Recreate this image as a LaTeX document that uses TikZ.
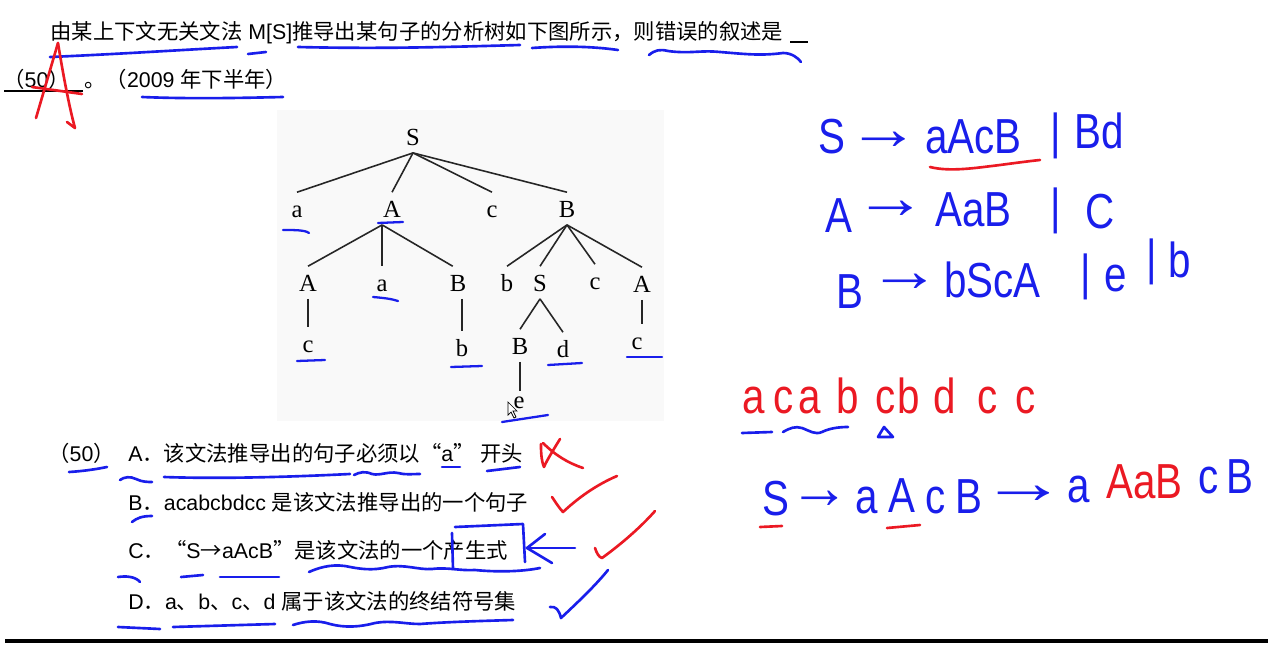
\documentclass[tikz,border=0pt]{standalone}
\usepackage{fontspec}
\setmainfont{Liberation Sans}
\newfontfamily\cjkf{Noto Sans CJK SC}
\newfontfamily\treefont{Liberation Serif}
\newfontfamily\hwf[FakeStretch=0.82]{Liberation Sans}
\newcommand\zh[1]{{\cjkf #1}}
\newcommand\harr{\scalebox{1.8}[1.25]{→}}
\newcommand\harrshort{\scalebox{1.5}[1.25]{→}}
\newcommand\harrlong{\scalebox{2.15}[1.25]{→}}
\definecolor{penblue}{RGB}{25,30,235}
\definecolor{penred}{RGB}{235,25,35}
\definecolor{treebg}{RGB}{249,249,249}
\begin{document}
\begin{tikzpicture}[x=0.02cm,y=-0.02cm,
  q/.style={anchor=base west, inner sep=0pt, font=\fontsize{12.15}{14}\selectfont},
  tn/.style={anchor=base, font=\treefont\fontsize{14}{16}\selectfont, text height=9.6pt, text depth=0pt, inner sep=4.3pt},
  te/.style={line width=0.9pt, draw=black!85},
  bpen/.style={draw=penblue, line width=1.5pt, line cap=round, line join=round},
  rpen/.style={draw=penred, line width=1.5pt, line cap=round, line join=round},
  tpen/.style={draw=penblue, line width=1.3pt, line cap=round, line join=round},
  hwb/.style={anchor=base west, inner sep=0pt, text=penblue, font=\hwf\fontsize{28}{30}\selectfont},
  hwr/.style={anchor=base west, inner sep=0pt, text=penred, font=\hwf\fontsize{28}{30}\selectfont},
  hwa/.style={anchor=center, inner sep=0pt, text=penblue, font=\hwf\fontsize{28}{30}\selectfont}]
\fill[white] (0,0) rectangle (1275,649);
\useasboundingbox (0,0) rectangle (1275,649);

% ---------- question ----------
\node[q] (l1) at (50,39) {\zh{由某上下文无关文法} M[S]\zh{推导出某句子的分析树如下图所示，则错误的叙述是}};
\draw[line width=0.8pt] (790,42) -- (808,42);
\node[q] (l2a) at (3,87) {\zh{（}50\zh{）}};
\draw[line width=1.2pt] (4,91) -- (83,91);
\node[q] (l2b) at (84,87) {\zh{。（}2009 \zh{年下半年）}};

% blue underlines of question
\draw[bpen] (50,57) .. controls (120,54) and (180,50) .. (237,47);
\draw[bpen] (248,54) -- (266,52);
\draw[bpen] (298,47) .. controls (380,49) and (450,47) .. (520,45);
\draw[bpen] (532,48) .. controls (560,46) and (590,46) .. (618,50);
\draw[bpen] (649,55) .. controls (655,50) and (660,49) .. (668,51) .. controls (690,54) and (700,50) .. (720,52) .. controls (745,54) and (760,56) .. (783,53) .. controls (792,53) and (798,58) .. (801,62);
\draw[bpen] (142,97) .. controls (190,99) and (240,98) .. (283,97);

% red A over (50)
\draw[rpen] (36,118) -- (58,43);
\draw[rpen] (58,43) .. controls (64,80) and (70,110) .. (75,128) -- (67,122);
\draw[rpen] (32,87) -- (82,94);

% ---------- parse tree ----------
\fill[treebg] (277,110) rectangle (664,421);
\node[tn] (S0) at (413,145) {S};
\node[tn] (a1) at (297,217) {a};
\node[tn] (A1) at (392,217) {A};
\node[tn] (c1) at (492,217) {c};
\node[tn] (B1) at (567,217) {B};
\node[tn] (A2) at (308,291) {A};
\node[tn] (a2) at (382,291) {a};
\node[tn] (B2) at (458,291) {B};
\node[tn] (b2) at (507,291) {b};
\node[tn] (S2) at (540,291) {S};
\node[tn] (c2) at (595,289) {c};
\node[tn] (A2r) at (642,292) {A};
\node[tn] (c3) at (308,352) {c};
\node[tn] (b3) at (462,356) {b};
\node[tn] (B3) at (520,354) {B};
\node[tn] (d3) at (563,357) {d};
\node[tn] (c3r) at (637,349) {c};
\node[tn] (e4) at (519,408) {e};

\draw[te] (S0.south) -- (a1.north);
\draw[te] (S0.south) -- (A1.north);
\draw[te] (S0.south) -- (c1.north);
\draw[te] (S0.south) -- (B1.north);
\draw[te] ([xshift=-5.6pt]A1.south) -- (A2.north);
\draw[te] ([xshift=-5.6pt]A1.south) -- ([xshift=-5.6pt]A1.south |- a2.north);
\draw[te] ([xshift=-5.6pt]A1.south) -- ([xshift=-3pt]B2.north);
\draw[te] (B1.south) -- (b2.north);
\draw[te] (B1.south) -- (S2.north);
\draw[te] (B1.south) -- (c2.north);
\draw[te] (B1.south) -- (A2r.north);
\draw[te] (A2.south) -- (c3.north);
\draw[te] (B2.south -| b3) -- (b3.north);
\draw[te] (S2.south) -- (B3.north);
\draw[te] (S2.south) -- (d3.north);
\draw[te] (A2r.south) -- (A2r.south |- c3r.north);
\draw[te, shorten >=-4.5pt] (B3.south) -- (B3.south |- e4.north);

% blue marks in the tree
\draw[tpen] (283,230) .. controls (295,230) and (305,230) .. (309,233);
\draw[tpen] (378,223) -- (403,222);
\draw[tpen] (373,297) .. controls (385,298) and (392,299) .. (398,301);
\draw[tpen] (297,361) -- (325,360);
\draw[tpen] (451,367) -- (482,366);
\draw[tpen] (548,365) -- (582,363);
\draw[tpen] (627,357) -- (662,357);
\draw[tpen] (502,422) -- (548,415);
% mouse cursor
\draw[fill=white, line width=0.4pt] (508,402) -- (508,415) -- (511,412) -- (514,418) -- (516,417) -- (513,411) -- (517,411) -- cycle;

% ---------- options ----------
\node[q] (o0) at (48,461) {\zh{（}50\zh{）}};
\node[q] (oA) at (128,461) {A\zh{．该文法推导出的句子必须以“}a\zh{”} \zh{开头}};
\node[q] (oB) at (128,510) {B\zh{．}acabcbdcc \zh{是该文法推导出的一个句子}};
\node[q] (oC) at (128,558) {C\zh{．“}S\zh{→}aAcB\zh{”是该文法的一个产生式}};
\node[q] (oD) at (128,609) {D\zh{．}a\zh{、}b\zh{、}c\zh{、}d \zh{属于该文法的终结符号集}};

% marks on options
\draw[bpen] (69,472) .. controls (85,471) and (97,469) .. (107,467);
\draw[bpen] (120,480) .. controls (124,477) and (130,476) .. (136,479) .. controls (142,482) and (148,482) .. (152,482);
\draw[bpen] (164,477) .. controls (220,479) and (290,477) .. (350,474);
\draw[bpen] (354,475) .. controls (360,472) and (365,471) .. (372,474) .. controls (380,476) and (388,471) .. (398,473) .. controls (405,475) and (412,474) .. (420,474);
\draw[bpen] (442,467) -- (460,467);
\draw[bpen] (487,471) -- (520,467);
\draw[bpen] (132,522) .. controls (137,518) and (142,516) .. (152,516);
\draw[bpen] (118,577) .. controls (125,576) and (135,576) .. (140,582);
\draw[bpen] (181,577) -- (203,575);
\draw[bpen] (220,577) -- (279,577);
\draw[bpen] (309,572) .. controls (318,568) and (330,564) .. (345,566) .. controls (360,569) and (372,571) .. (388,567) .. controls (405,564) and (418,570) .. (432,569) .. controls (448,567) and (460,571) .. (475,570) .. controls (495,572) and (520,572) .. (540,568);
\draw[bpen] (118,627) -- (160,629);
\draw[bpen] (173,627) -- (275,624);
\draw[bpen] (293,625) .. controls (305,621) and (318,620) .. (330,624) .. controls (345,628) and (360,627) .. (375,623) .. controls (392,620) and (405,624) .. (420,624) .. controls (445,622) and (480,621) .. (513,620);
% box and arrow around 产生式
\draw[bpen] (455,527) -- (523,524) -- (525,562);
\draw[bpen] (452,533) -- (453,569);
\draw[bpen] (575,548) -- (527,548);
\draw[bpen] (545,534) -- (527,548) -- (552,563);
% ticks and cross
\draw[rpen] (560,439) .. controls (552,452) and (546,462) .. (544,467) .. controls (541,460) and (541,450) .. (541,444);
\draw[rpen] (543,443) .. controls (555,455) and (568,463) .. (583,468);
\draw[rpen] (552,497) .. controls (556,503) and (560,509) .. (563,512) .. controls (578,498) and (596,485) .. (617,476);
\draw[rpen] (595,548) .. controls (597,554) and (599,557) .. (602,558) .. controls (620,545) and (640,528) .. (655,511);
\draw[bpen] (550,607) .. controls (556,606) and (559,610) .. (561,618) .. controls (578,602) and (595,586) .. (608,570);

% ---------- handwriting: grammar ----------
\node[hwb] (g1S) at (818,153) {S};
\node[hwa] (g1ar) at (884,141) {\harr};
\node[hwb] (g1r) at (925,153) {aAcB};
\node[hwb] (g1bar) at (1050,148) {|};
\node[hwb] (g1r2) at (1074,148) {Bd};
\draw[rpen] (930,167) .. controls (950,172) and (975,168) .. (1000,165) .. controls (1015,163) and (1030,161) .. (1040,160);

\node[hwb] (g2A) at (825,232) {A};
\node[hwa] (g2ar) at (891,210) {\harr};
\node[hwb] (g2r) at (935,226) {AaB};
\node[hwb] (g2bar) at (1050,223) {|};
\node[hwb] (g2r2) at (1085,228) {C};

\node[hwb] (g3B) at (836,308) {B};
\node[hwa] (g3ar) at (905,283) {\harr};
\node[hwb] (g3r) at (944,297) {bScA};
\node[hwb] (g3bar) at (1080,289) {|};
\node[hwb] (g3e) at (1104,291) {e};
\node[hwb] (g3bar2) at (1146,274) {|};
\node[hwb] (g3b) at (1168,277) {b};

% ---------- handwriting: sentence ----------
\node[hwr] (s1) at (742,413) {a};
\node[hwr] (s2) at (773,413) {c};
\node[hwr] (s3) at (798,413) {a};
\node[hwr] (s4) at (836,413) {b};
\node[hwr] (s5) at (875,413) {c};
\node[hwr] (s6) at (897,413) {b};
\node[hwr] (s7) at (933,413) {d};
\node[hwr] (s8) at (977,413) {c};
\node[hwr] (s9) at (1015,413) {c};
\draw[bpen] (742,433) -- (772,432);
\draw[bpen] (783,432) .. controls (790,428) and (795,426) .. (802,428) .. controls (810,431) and (815,435) .. (822,432) .. controls (830,428) and (840,427) .. (848,427);
\draw[bpen] (878,437) -- (893,437) -- (884,427) -- cycle;

% ---------- handwriting: derivation ----------
\node[hwb] (d1) at (762,515) {S};
\node[hwa] (d2) at (820,500) {\harrshort};
\node[hwb] (d3) at (855,513) {a};
\node[hwb] (d4) at (888,512) {A};
\node[hwb] (d5) at (925,513) {c};
\node[hwb] (d6) at (955,513) {B};
\node[hwa] (d7) at (1024,495) {\harrlong};
\node[hwb] (d8) at (1067,502) {a};
\node[hwr] (d9) at (1106,498) {AaB};
\node[hwb] (d10) at (1198,493) {c};
\node[hwb] (d11) at (1226,493) {B};
\draw[rpen] (760,527) -- (782,526);
\draw[rpen] (887,528) -- (920,525);

% bottom rule
\draw[line width=2.4pt] (5,641) -- (1268,641);
\end{tikzpicture}
\end{document}
